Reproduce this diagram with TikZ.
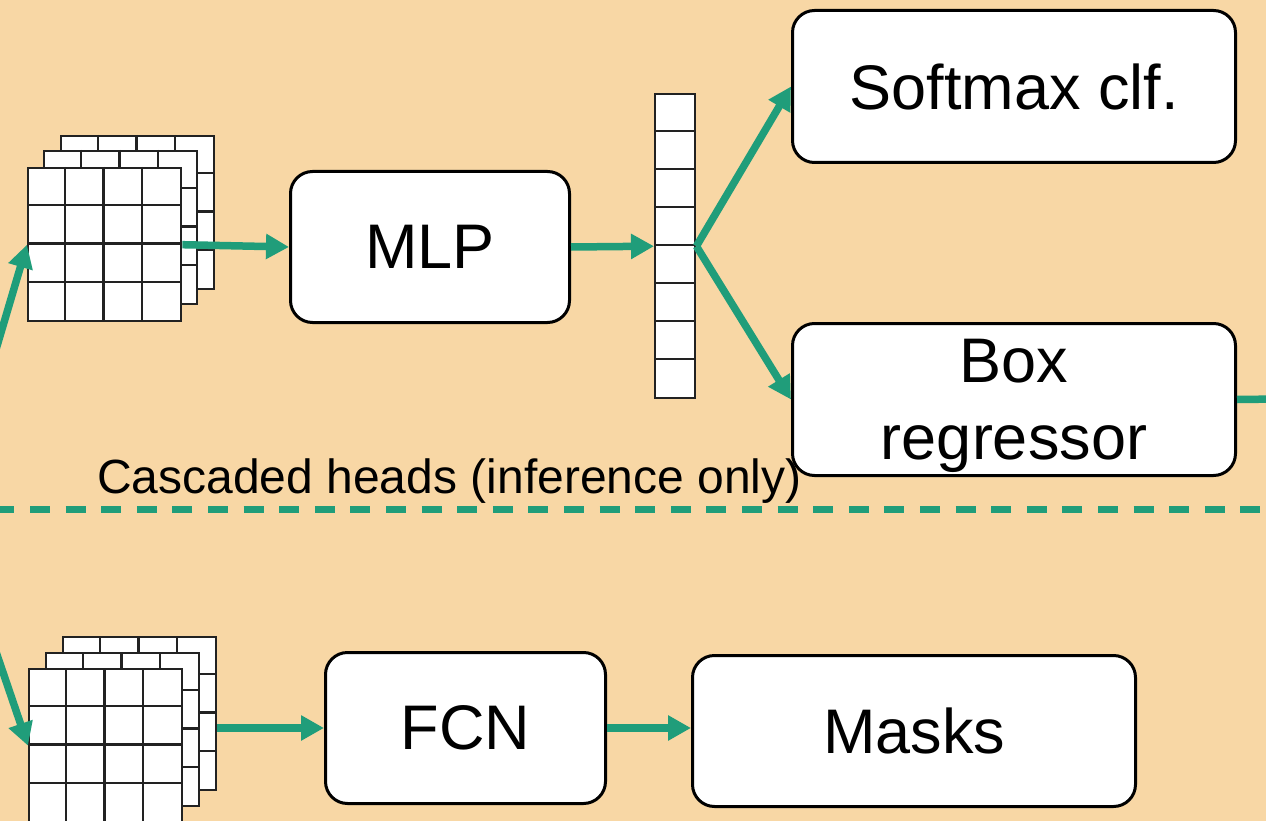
\documentclass[tikz,border=0pt]{standalone}
\usepackage{fontspec}
\setmainfont{Liberation Sans}
\usetikzlibrary{arrows.meta}

\definecolor{bgpeach}{RGB}{248,215,165}
\definecolor{flowgreen}{RGB}{32,157,122}
\definecolor{inkgrid}{RGB}{34,34,34}

\tikzset{
  headbox/.style={draw=black, line width=3pt, fill=white, rounded corners=22pt,
    inner sep=0pt, align=center, anchor=north west,
    font=\fontsize{63}{77}\selectfont},
  flow/.style={draw=flowgreen, line width=7.5pt,
    -{Triangle[length=23pt,width=24pt]}},
  link/.style={draw=flowgreen, line width=7.5pt},
  splitline/.style={draw=flowgreen, line width=7pt, dash pattern=on 20pt off 15.6pt},
  cellsheet/.style={draw=inkgrid, line width=2.4pt, fill=white, inner sep=0pt,
    minimum width=153pt, minimum height=153pt, anchor=north west},
  gridline/.style={draw=inkgrid, line width=2.4pt},
  caption/.style={font=\fontsize{48}{58}\selectfont, inner sep=0pt, anchor=base west}
}

% one 4x4 feature-map sheet: name, left x, top y
\newcommand{\fmaplayer}[3]{%
  \node[cellsheet] (#1) at (#2,#3) {};
  \foreach \k in {1,2,3} {
    \draw[gridline] (#2+\k*38.25,#3) -- (#2+\k*38.25,#3+153);
    \draw[gridline] (#2,#3+\k*38.25) -- (#2+153,#3+\k*38.25);
  }%
}

\begin{document}
\begin{tikzpicture}[x=1pt,y=-1pt]
  \fill[bgpeach] (0,0) rectangle (1266,821);
  \useasboundingbox (0,0) rectangle (1266,821);
  \clip (0,0) rectangle (1266,821);

  % upper feature-map stack (back to front)
  \fmaplayer{topC}{60}{135}
  \fmaplayer{topB}{43}{150}
  \fmaplayer{topA}{27}{167}

  % lower feature-map stack (back to front)
  \fmaplayer{botC}{62}{636}
  \fmaplayer{botB}{45}{652}
  \fmaplayer{botA}{28}{668}

  % feature vector
  \node[draw=inkgrid, line width=2.4pt, fill=white, inner sep=0pt,
        minimum width=40pt, minimum height=304pt, anchor=north west] (vec) at (654,93) {};
  \foreach \k in {1,...,7} {
    \draw[gridline] (654,93+\k*38) -- (694,93+\k*38);
  }

  % heads
  \node[headbox, minimum width=279pt, minimum height=151pt] (mlp) at (289,170) {MLP};
  \node[headbox, minimum width=443pt, minimum height=152pt] (softmax) at (791,9) {Softmax clf.};
  \node[headbox, minimum width=443pt, minimum height=152pt, text depth=0pt] (boxreg) at (791,322) {Box\\regressor};
  \node[headbox, minimum width=280pt, minimum height=151pt] (fcn) at (324,651) {FCN};
  \node[headbox, minimum width=443pt, minimum height=151pt] (masks) at (691,654) {Masks};

  % separator and its label
  \coordinate (sepL) at (-5.6,509);
  \coordinate (sepR) at (1270,509);
  \draw[splitline] (sepL) -- (sepR);
  \node[caption] (cascade) at (97,493) {Cascaded heads (inference only)};

  % connectors
  \coordinate (inTop) at (-8,363);
  \coordinate (inBot) at (-7,643);
  \coordinate (outR) at (1280,399);
  \draw[flow] (inTop) -- (topA.west);
  \draw[flow] (inBot) -- (botA.west);
  \draw[flow] (topA.east) -- (mlp.west);
  \draw[flow] (mlp.east) -- (vec.west);
  \draw[flow] (vec.east) -- (softmax.west);
  \draw[flow] (vec.east) -- (boxreg.west);
  \draw[link] (boxreg.east) -- (outR);
  \draw[flow] (fcn.west -| botC.east) -- (fcn.west);
  \draw[flow] (fcn.east) -- (fcn.east -| masks.west);
\end{tikzpicture}
\end{document}
